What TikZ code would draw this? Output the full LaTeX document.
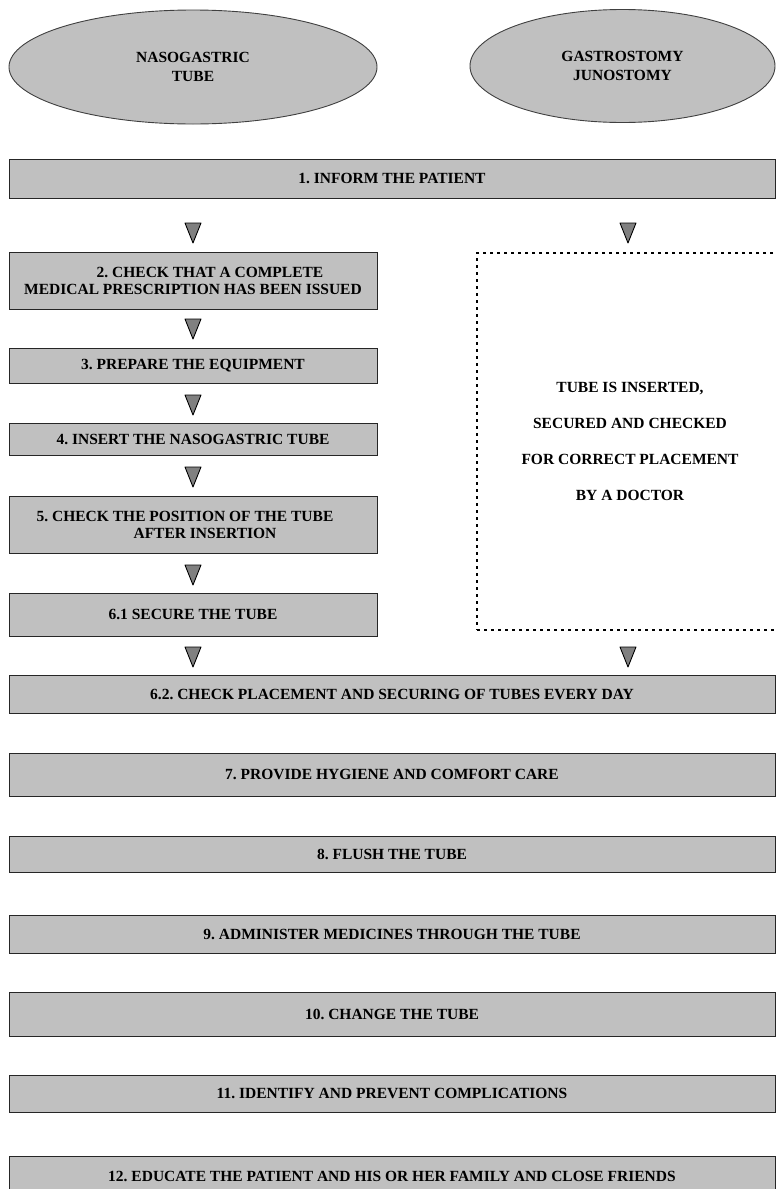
\documentclass[tikz,border=0pt]{standalone}
\usepackage{fontspec}
\setmainfont{Liberation Serif}
\usetikzlibrary{shapes.geometric}
\definecolor{boxgray}{HTML}{C0C0C0}
\definecolor{trigray}{HTML}{808080}
\frenchspacing

\begin{document}
\begin{tikzpicture}[x=1pt, y=-1pt,
  font=\fontsize{15.5}{17}\selectfont\bfseries,
  oval/.style={draw=black!75, line width=0.9pt, fill=boxgray, ellipse, inner sep=0, align=center, font=\fontsize{15.5}{19.5}\selectfont\bfseries},
  stepbox/.style={draw=black!85, line width=1pt, fill=boxgray, minimum width=368, inner sep=0, align=center},
  bar/.style={stepbox, minimum width=766},
  tri/.style={draw=black, fill=trigray, line width=0.9pt, line join=round},
  doctorbox/.style={draw, line width=2.8pt, dash pattern=on 2.8pt off 4.2pt, minimum width=306, minimum height=377, align=center, font=\fontsize{15.5}{36}\selectfont\bfseries}]
\useasboundingbox (0,0) rectangle (776,1189);

% the two kinds of tube
\node[oval, minimum width=368, minimum height=114] (ng) at (193,67) {NASOGASTRIC\\TUBE};
\node[oval, minimum width=305, minimum height=113] (gj) at (622.5,66) {GASTROSTOMY\\JUNOSTOMY};

\node[bar, minimum height=39] (s1) at (392,178.5) {1. INFORM THE PATIENT};

% nasogastric steps
\node[stepbox, minimum height=57] (s2) at (193,280.5) {\hspace*{34pt}2. CHECK THAT A COMPLETE\\MEDICAL PRESCRIPTION HAS BEEN ISSUED};
\node[stepbox, minimum height=35] (s3) at (193,365.5) {3. PREPARE THE EQUIPMENT};
\node[stepbox, minimum height=32] (s4) at (193,439) {4. INSERT THE NASOGASTRIC TUBE};
\node[stepbox, minimum height=57] (s5) at (193,524.5) {5. CHECK THE POSITION OF THE TUBE\hspace*{16pt}\\\hspace*{24pt}AFTER INSERTION};
\node[stepbox, minimum height=43] (s61) at (193,614.5) {6.1 SECURE THE TUBE};

% gastrostomy
\node[doctorbox] (doc) at (630,441.5) {TUBE IS INSERTED,\\SECURED AND CHECKED\\FOR CORRECT PLACEMENT\\BY A DOCTOR};

% common steps
\node[bar, minimum height=38] (s62) at (392,694) {6.2. CHECK PLACEMENT AND SECURING OF TUBES EVERY DAY};
\node[bar, minimum height=43] (s7) at (392,774.5) {7. PROVIDE HYGIENE AND COMFORT CARE};
\node[bar, minimum height=36] (s8) at (392,854) {8. FLUSH THE TUBE};
\node[bar, minimum height=38] (s9) at (392,934) {9. ADMINISTER MEDICINES THROUGH THE TUBE};
\node[bar, minimum height=44] (s10) at (392,1014) {10. CHANGE THE TUBE};
\node[bar, minimum height=37] (s11) at (392,1093.5) {11. IDENTIFY AND PREVENT COMPLICATIONS};
\node[bar, minimum height=40] (s12) at (392,1176) {12. EDUCATE THE PATIENT AND HIS OR HER FAMILY AND CLOSE FRIENDS};

% arrow heads
\foreach \tx/\ty in {193/233, 628/233, 193/329, 193/405, 193/477, 193/575, 193/657, 628/657}
  \draw[tri] (\tx-8,\ty-10) -- (\tx+8,\ty-10) -- (\tx,\ty+10) -- cycle;
\end{tikzpicture}
\end{document}
